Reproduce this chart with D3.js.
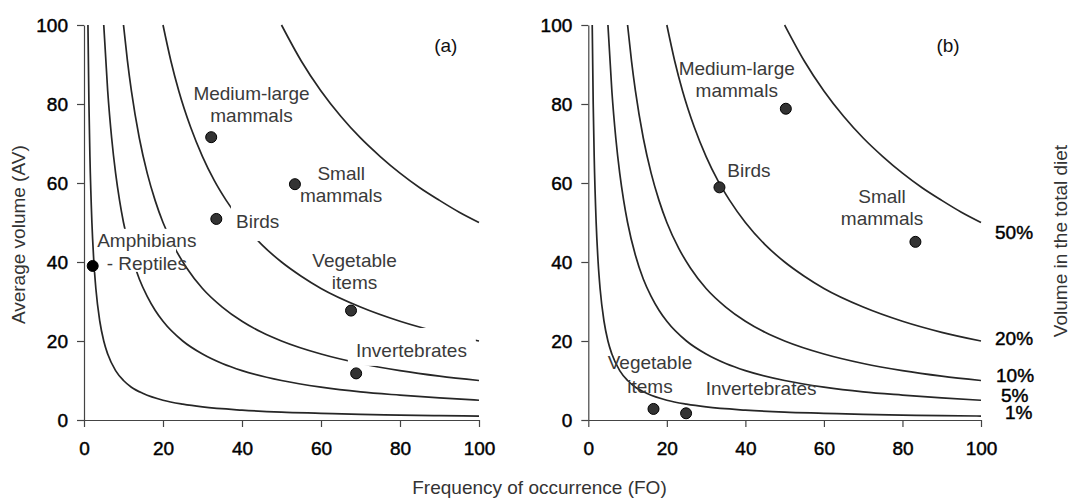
<!DOCTYPE html>
<html><head><meta charset="utf-8">
<script src="https://cdn.jsdelivr.net/npm/d3@7"></script>
<style>
body{margin:0;background:#fff}
svg{display:block;font-family:"Liberation Sans",Arial,Helvetica,sans-serif}
</style>
</head><body>
<svg id="chart" width="1071" height="500"></svg>
<script>
// ---------- data ----------
const xTickValues = [0, 20, 40, 60, 80, 100];
const yTickValues = [0, 20, 40, 60, 80, 100];
const isoLabels = ["1%", "5%", "10%", "20%", "50%"];

// iso-lines of volume in the total diet (FO, AV)
const iso1 = [[1,100],[1.25,80],[1.5,66.7],[2,50],[2.5,40],[3,33.3],[4,25],[5,20],[6,16.7],[8,12.5],[10,10],[12,8.3],[15,6.7],[20,5],[25,4],[30,3.3],[40,2.5],[50,2],[60,1.7],[70,1.4],[80,1.25],[90,1.1],[100,1]];
const iso5 = [[5,100],[6,83.3],[7,71.4],[8,62.5],[9,55.6],[10,50],[12,41.7],[14,35.7],[16,31.3],[18,27.8],[20,25],[25,20],[30,16.7],[35,14.3],[40,12.5],[50,10],[60,8.3],[70,7.1],[80,6.3],[90,5.6],[100,5]];
const iso10 = [[10,100],[11,90.9],[12,83.3],[14,71.4],[16,62.5],[18,55.6],[20,50],[23,43.5],[26,38.5],[30,33.3],[35,28.6],[40,25],[45,22.2],[50,20],[60,16.7],[70,14.3],[80,12.5],[90,11.1],[100,10]];
const iso20 = [[20,100],[22,90.9],[24,83.3],[27,74.1],[30,66.7],[33,60.6],[36,55.6],[40,50],[45,44.4],[50,40],[55,36.4],[60,33.3],[70,28.6],[80,25],[90,22.2],[100,20]];
const iso50 = [[50,100],[55,90.9],[60,83.3],[65,76.9],[70,71.4],[75,66.7],[80,62.5],[85,58.8],[90,55.6],[95,52.6],[100,50]];
const isoCurves = [iso1, iso5, iso10, iso20, iso50];

// panel (a)
const categoriesA = ["Medium-large mammals", "Small mammals", "Birds", "Amphibians - Reptiles", "Vegetable items", "Invertebrates"];
const foA = [32.2, 53.4, 33.5, 2.2, 67.6, 68.9];
const avA = [71.6, 59.7, 50.9, 39.0, 27.7, 11.8];
// panel (b)
const categoriesB = ["Medium-large mammals", "Birds", "Small mammals", "Vegetable items", "Invertebrates"];
const foB = [50.3, 33.4, 83.3, 16.6, 24.9];
const avB = [78.8, 58.9, 45.1, 2.8, 1.7];

// ---------- layout (not data) ----------
const svg = d3.select("#chart");
const FONT = 19;
const yTop = 25, yBottom = 420;
const panels = [
  {id:"a", x0:84, x1:479},
  {id:"b", x0:588.3, x1:981}
];

const labelLayoutA = [
  {fo:42.4, av:81.0, anchor:"middle", lines:["Medium-large","mammals"], gap:22},
  {fo:65.1, av:60.8, anchor:"middle", lines:["Small","mammals"], gap:22},
  {fo:38.5, av:48.6, anchor:"start", lines:["Birds"], gap:22},
  {fo:15.9, av:43.8, anchor:"middle", lines:["Amphibians","- Reptiles"], gap:23.5},
  {fo:68.5, av:38.8, anchor:"middle", lines:["Vegetable","items"], gap:22.6},
  {fo:82.9, av:16.0, anchor:"middle", lines:["Invertebrates"], gap:22}
];
const labelLayoutB = [
  {fo:37.8, av:87.3, anchor:"middle", lines:["Medium-large","mammals"], gap:21.7},
  {fo:35.4, av:61.6, anchor:"start", lines:["Birds"], gap:22},
  {fo:74.8, av:54.9, anchor:"middle", lines:["Small","mammals"], gap:21.7},
  {fo:15.7, av:12.8, anchor:"middle", lines:["Vegetable","items"], gap:23.4},
  {fo:44.0, av:6.3, anchor:"middle", lines:["Invertebrates"], gap:22}
];
// white masks behind some labels of panel (a): [fo0, fo1, av0, av1]
const masksA = [
  [37.2, 50.9, 45.3, 54.7],
  [66.8, 99.2, 13.7, 23.3],
  [2.8, 23.3, 37.5, 48.4]
];
// iso label placement (pixel offset from x=100, AV of baseline)
const isoLabelPos = [
  {dx:24, av:0.3}, {dx:20, av:4.6}, {dx:15, av:9.5}, {dx:14, av:19.0}, {dx:14, av:45.7}
];

const y = d3.scaleLinear().domain([0,100]).range([yBottom, yTop]);
const lineColor = "#262626";
const labelColor = "#3a3a3a";

function heavy(sel) {
  return sel.attr("stroke","#000").attr("stroke-width",0.45).attr("paint-order","stroke");
}

function drawPanel(p, fo, av, cats, layout, masks, tag) {
  const x = d3.scaleLinear().domain([0,100]).range([p.x0, p.x1]);
  const g = svg.append("g");

  const line = d3.line().x(d => x(d[0])).y(d => y(d[1])).curve(d3.curveMonotoneX);
  g.selectAll("path.iso").data(isoCurves).join("path")
    .attr("class","iso").attr("d", line)
    .attr("fill","none").attr("stroke",lineColor).attr("stroke-width",1.7);

  g.selectAll("rect.mask").data(masks).join("rect")
    .attr("class","mask")
    .attr("x", d => x(d[0])).attr("width", d => x(d[1]) - x(d[0]))
    .attr("y", d => y(d[3])).attr("height", d => y(d[2]) - y(d[3]))
    .attr("fill","#fff");

  const xAxis = d3.axisBottom(x).tickValues(xTickValues).tickSize(7).tickSizeOuter(0).tickPadding(15);
  const yAxis = d3.axisLeft(y).tickValues(yTickValues).tickSize(7).tickSizeOuter(0).tickPadding(9);
  const gx = g.append("g").attr("transform", `translate(0,${yBottom})`).call(xAxis);
  const gy = g.append("g").attr("transform", `translate(${p.x0},0)`).call(yAxis);
  [gx, gy].forEach(a => {
    a.select(".domain").attr("stroke","#444").attr("stroke-width",1.2);
    a.selectAll(".tick line").attr("stroke","#444").attr("stroke-width",1.2);
    heavy(a.selectAll(".tick text").attr("fill","#000").attr("font-size",FONT)
      .attr("font-family",'"Liberation Sans",Arial,sans-serif'));
  });

  layout.forEach(l => {
    const t = g.append("text").attr("x", x(l.fo)).attr("y", y(l.av))
      .attr("text-anchor", l.anchor).attr("fill", labelColor).attr("font-size", FONT);
    l.lines.forEach((s,i) => {
      t.append("tspan").attr("x", x(l.fo)).attr("dy", i===0 ? 0 : l.gap).text(s);
    });
  });

  g.selectAll("circle.pt").data(fo.map((f,i)=>({fo:f, av:av[i], cat:cats[i]}))).join("circle")
    .attr("class","pt")
    .attr("cx", d => x(d.fo)).attr("cy", d => y(d.av)).attr("r", 5.5)
    .attr("fill", d => d.cat === "Amphibians - Reptiles" ? "#000" : "#333")
    .attr("stroke","#000").attr("stroke-width",1);

  g.append("text").attr("x", x(91.6)).attr("y", y(93.2)).attr("text-anchor","middle")
    .attr("fill","#111").attr("font-size",FONT).text(tag);
  return x;
}

drawPanel(panels[0], foA, avA, categoriesA, labelLayoutA, masksA, "(a)");
const xb = drawPanel(panels[1], foB, avB, categoriesB, labelLayoutB, [], "(b)");

heavy(svg.append("g").selectAll("text").data(isoLabels).join("text")
  .attr("x", (d,i) => xb(100) + isoLabelPos[i].dx)
  .attr("y", (d,i) => y(isoLabelPos[i].av))
  .attr("fill","#000").attr("font-size",FONT).text(d => d));

svg.append("text").attr("x",539.5).attr("y",494).attr("text-anchor","middle")
  .attr("fill","#333").attr("font-size",FONT).text("Frequency of occurrence (FO)");
svg.append("text").attr("transform","translate(25,234.7) rotate(-90)").attr("text-anchor","middle")
  .attr("fill","#333").attr("font-size",FONT).text("Average volume (AV)");
svg.append("text").attr("transform","translate(1067,241) rotate(-90)").attr("text-anchor","middle")
  .attr("fill","#333").attr("font-size",FONT).text("Volume in the total diet");
</script>
</body></html>
